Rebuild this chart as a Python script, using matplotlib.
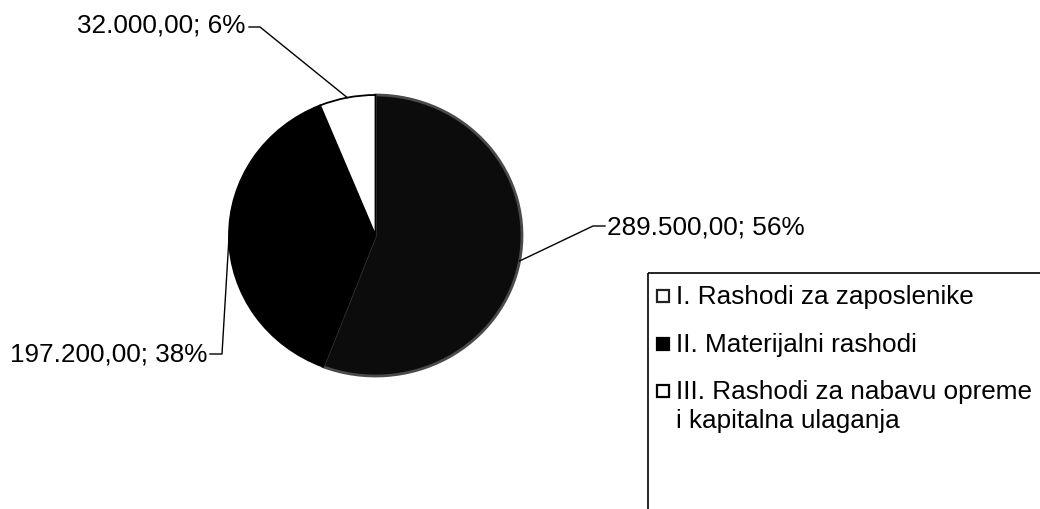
import numpy as np
import matplotlib
matplotlib.use("Agg")
import matplotlib.pyplot as plt
from matplotlib.patches import Rectangle

# ---- data ----
categories = ["I. Rashodi za zaposlenike",
              "II. Materijalni rashodi",
              "III. Rashodi za nabavu opreme\ni kapitalna ulaganja"]
values = [289500.00, 197200.00, 32000.00]
value_labels = ["289.500,00", "197.200,00", "32.000,00"]
colors = ["#0c0c0c", "#000000", "#ffffff"]

plt.rcParams['font.family'] = ['Liberation Sans', 'DejaVu Sans']

W, H = 1040, 510
fig = plt.figure(figsize=(W / 100, H / 100), dpi=100)
fig.patch.set_facecolor("white")

# pie axes (slightly elliptical like the reference)
cx, cy, rx, ry = 375.5, 236.5, 146.5, 140.5
ax = fig.add_axes([(cx - rx) / W, (H - cy - ry) / H, 2 * rx / W, 2 * ry / H])
wedges, _ = ax.pie(values, colors=colors, startangle=90, counterclock=False,
                   wedgeprops=dict(edgecolor="black", linewidth=1.3))
ax.set_aspect("auto")
ax.set_xlim(-1, 1)
ax.set_ylim(-1, 1)
ax.axis("off")
# faint speckled rim on the first slice
wedges[0].set_edgecolor("#4a4a4a")
wedges[0].set_linewidth(2.0)

# overlay axes in pixel coordinates
ov = fig.add_axes([0, 0, 1, 1], zorder=5)
ov.set_xlim(0, W)
ov.set_ylim(H, 0)
ov.axis("off")
ov.patch.set_alpha(0)

total = sum(values)
pcts = [int(round(100 * v / total)) for v in values]

# layout for labels: (elbow point, tick end, text x, text baseline y, ha)
layout = [
    ((593, 227), (605, 227), 607, 235, "left"),
    ((222, 355), (210, 355), 207, 362, "right"),
    ((260, 28), (249, 28), 245, 33, "right"),
]

inv = ov.transData.inverted()
for w, lab, p, (elb, tick, tx, ty, ha) in zip(wedges, value_labels, pcts, layout):
    mid = np.deg2rad((w.theta1 + w.theta2) / 2)
    ex, ey = inv.transform(ax.transData.transform((np.cos(mid), np.sin(mid))))
    ov.plot([ex, elb[0], tick[0]], [ey, elb[1], tick[1]], color="black", lw=1.0)
    ov.text(tx, ty, f"{lab}; {p}%", ha=ha, va="baseline", fontsize=18.8, color="black")

# legend (manual, box clipped by figure edge)
ov.add_patch(Rectangle((648, 274), 400, 300, fill=False, edgecolor="black", lw=1.2))
marker_edges = ["#222222", "black", "black"]
baselines = [304, 352, 399]
for cat, col, me, by in zip(categories, colors, marker_edges, baselines):
    fc = "white" if col != "#000000" else "black"
    ov.add_patch(Rectangle((657, by - 13), 12, 12, facecolor=fc, edgecolor=me, lw=1.6))
    lines = cat.split("\n")
    for i, ln in enumerate(lines):
        ov.text(676, by + i * 29, ln, ha="left", va="baseline", fontsize=18.8, color="black")

fig.savefig("out.png", dpi=100, facecolor="white")
